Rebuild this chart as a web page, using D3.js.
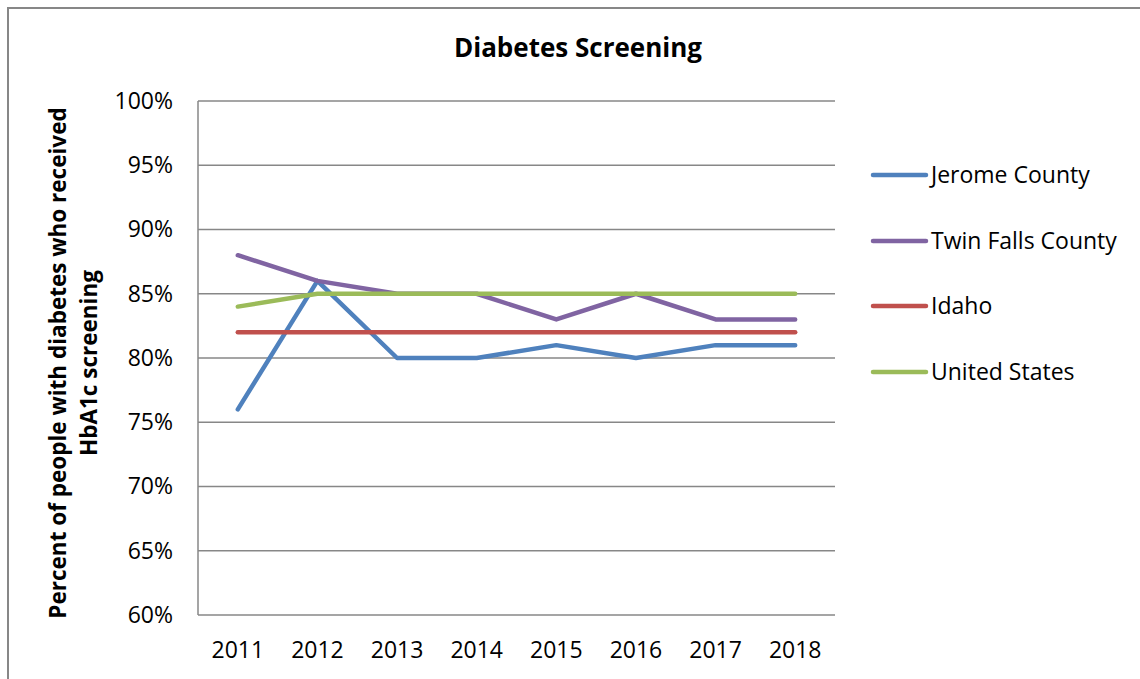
<!DOCTYPE html>
<html>
<head>
<meta charset="utf-8">
<script src="https://cdn.jsdelivr.net/npm/d3@7"></script>
<style>
  html, body { margin: 0; padding: 0; background: #fff; }
  svg { display: block; }
  text { font-family: "Open Sans", Lato, sans-serif; fill: #000; }
</style>
</head>
<body>
<svg id="chart" width="1140" height="679"></svg>
<script>
// Years on the category axis
const years = ["2011", "2012", "2013", "2014", "2015", "2016", "2017", "2018"];

// Percent of people with diabetes who received HbA1c screening
const jeromeCounty = [76, 86, 80, 80, 81, 80, 81, 81];
const twinFallsCounty = [88, 86, 85, 85, 83, 85, 83, 83];
const idaho = [82, 82, 82, 82, 82, 82, 82, 82];
const unitedStates = [84, 85, 85, 85, 85, 85, 85, 85];

const seriesNames = ["Jerome County", "Twin Falls County", "Idaho", "United States"];
const seriesValues = [jeromeCounty, twinFallsCounty, idaho, unitedStates];
const seriesColors = ["#4F81BD", "#8064A2", "#C0504D", "#9BBB59"];

const yTicks = [60, 65, 70, 75, 80, 85, 90, 95, 100];

const svg = d3.select("#chart");

// Outer chart frame (runs off the right and bottom edges)
svg.append("rect")
  .attr("x", 8).attr("y", 8)
  .attr("width", 1150).attr("height", 700)
  .attr("fill", "none")
  .attr("stroke", "#878787")
  .attr("stroke-width", 2);

const plot = { left: 198, right: 835, top: 101, bottom: 615 };

const x = d3.scaleBand()
  .domain(years)
  .range([plot.left, plot.right]);

const y = d3.scaleLinear()
  .domain([60, 100])
  .range([plot.bottom, plot.top]);

// Horizontal gridlines
svg.append("g")
  .selectAll("line")
  .data(yTicks)
  .join("line")
  .attr("x1", plot.left).attr("x2", plot.right)
  .attr("y1", d => y(d)).attr("y2", d => y(d))
  .attr("stroke", "#878787")
  .attr("stroke-width", 1.5);

// Left axis line
svg.append("line")
  .attr("x1", plot.left).attr("x2", plot.left)
  .attr("y1", plot.top).attr("y2", plot.bottom)
  .attr("stroke", "#878787")
  .attr("stroke-width", 1.5);

// Y tick labels
const yAxis = d3.axisLeft(y)
  .tickValues(yTicks)
  .tickFormat(d => d + "%")
  .tickSize(0)
  .tickPadding(25);
const gy = svg.append("g")
  .attr("transform", `translate(${plot.left},0)`)
  .call(yAxis);
gy.select(".domain").remove();
gy.selectAll("text")
  .style("font-family", "'Open Sans', sans-serif")
  .style("font-size", "23px")
  .attr("fill", "#000");

// X tick labels
const xAxis = d3.axisBottom(x).tickSize(0).tickPadding(27);
const gx = svg.append("g")
  .attr("transform", `translate(0,${plot.bottom})`)
  .call(xAxis);
gx.select(".domain").remove();
gx.selectAll("text")
  .style("font-family", "'Open Sans', sans-serif")
  .style("font-size", "23px")
  .attr("fill", "#000");

// Series lines
const line = d3.line()
  .x((d, i) => x(years[i]) + x.bandwidth() / 2)
  .y(d => y(d));

svg.append("g")
  .selectAll("path")
  .data(seriesValues)
  .join("path")
  .attr("d", d => line(d))
  .attr("fill", "none")
  .attr("stroke", (d, i) => seriesColors[i])
  .attr("stroke-width", 4.5)
  .attr("stroke-linecap", "round")
  .attr("stroke-linejoin", "round");

// Title
svg.append("text")
  .attr("x", 578).attr("y", 57)
  .attr("text-anchor", "middle")
  .style("font-size", "26px")
  .style("font-weight", "bold")
  .text("Diabetes Screening");

// Y axis title (two lines)
const yTitle = svg.append("text")
  .attr("transform", `translate(0,${(plot.top + plot.bottom) / 2 + 5}) rotate(-90)`)
  .attr("text-anchor", "middle")
  .style("font-size", "22.5px")
  .style("font-weight", "bold");
yTitle.append("tspan").attr("x", 0).attr("y", 66)
  .text("Percent of people with diabetes who received");
yTitle.append("tspan").attr("x", 0).attr("y", 97)
  .text("HbA1c screening");

// Legend
const legendRows = [175, 241, 306, 372];
const legend = svg.append("g")
  .selectAll("g")
  .data(seriesNames)
  .join("g")
  .attr("transform", (d, i) => `translate(873,${legendRows[i]})`);
legend.append("line")
  .attr("x1", 0).attr("x2", 53)
  .attr("y1", 0).attr("y2", 0)
  .attr("stroke", (d, i) => seriesColors[i])
  .attr("stroke-width", 4.5)
  .attr("stroke-linecap", "round");
legend.append("text")
  .attr("x", 58).attr("y", 8)
  .style("font-size", "23px")
  .text(d => d);
</script>
</body>
</html>
